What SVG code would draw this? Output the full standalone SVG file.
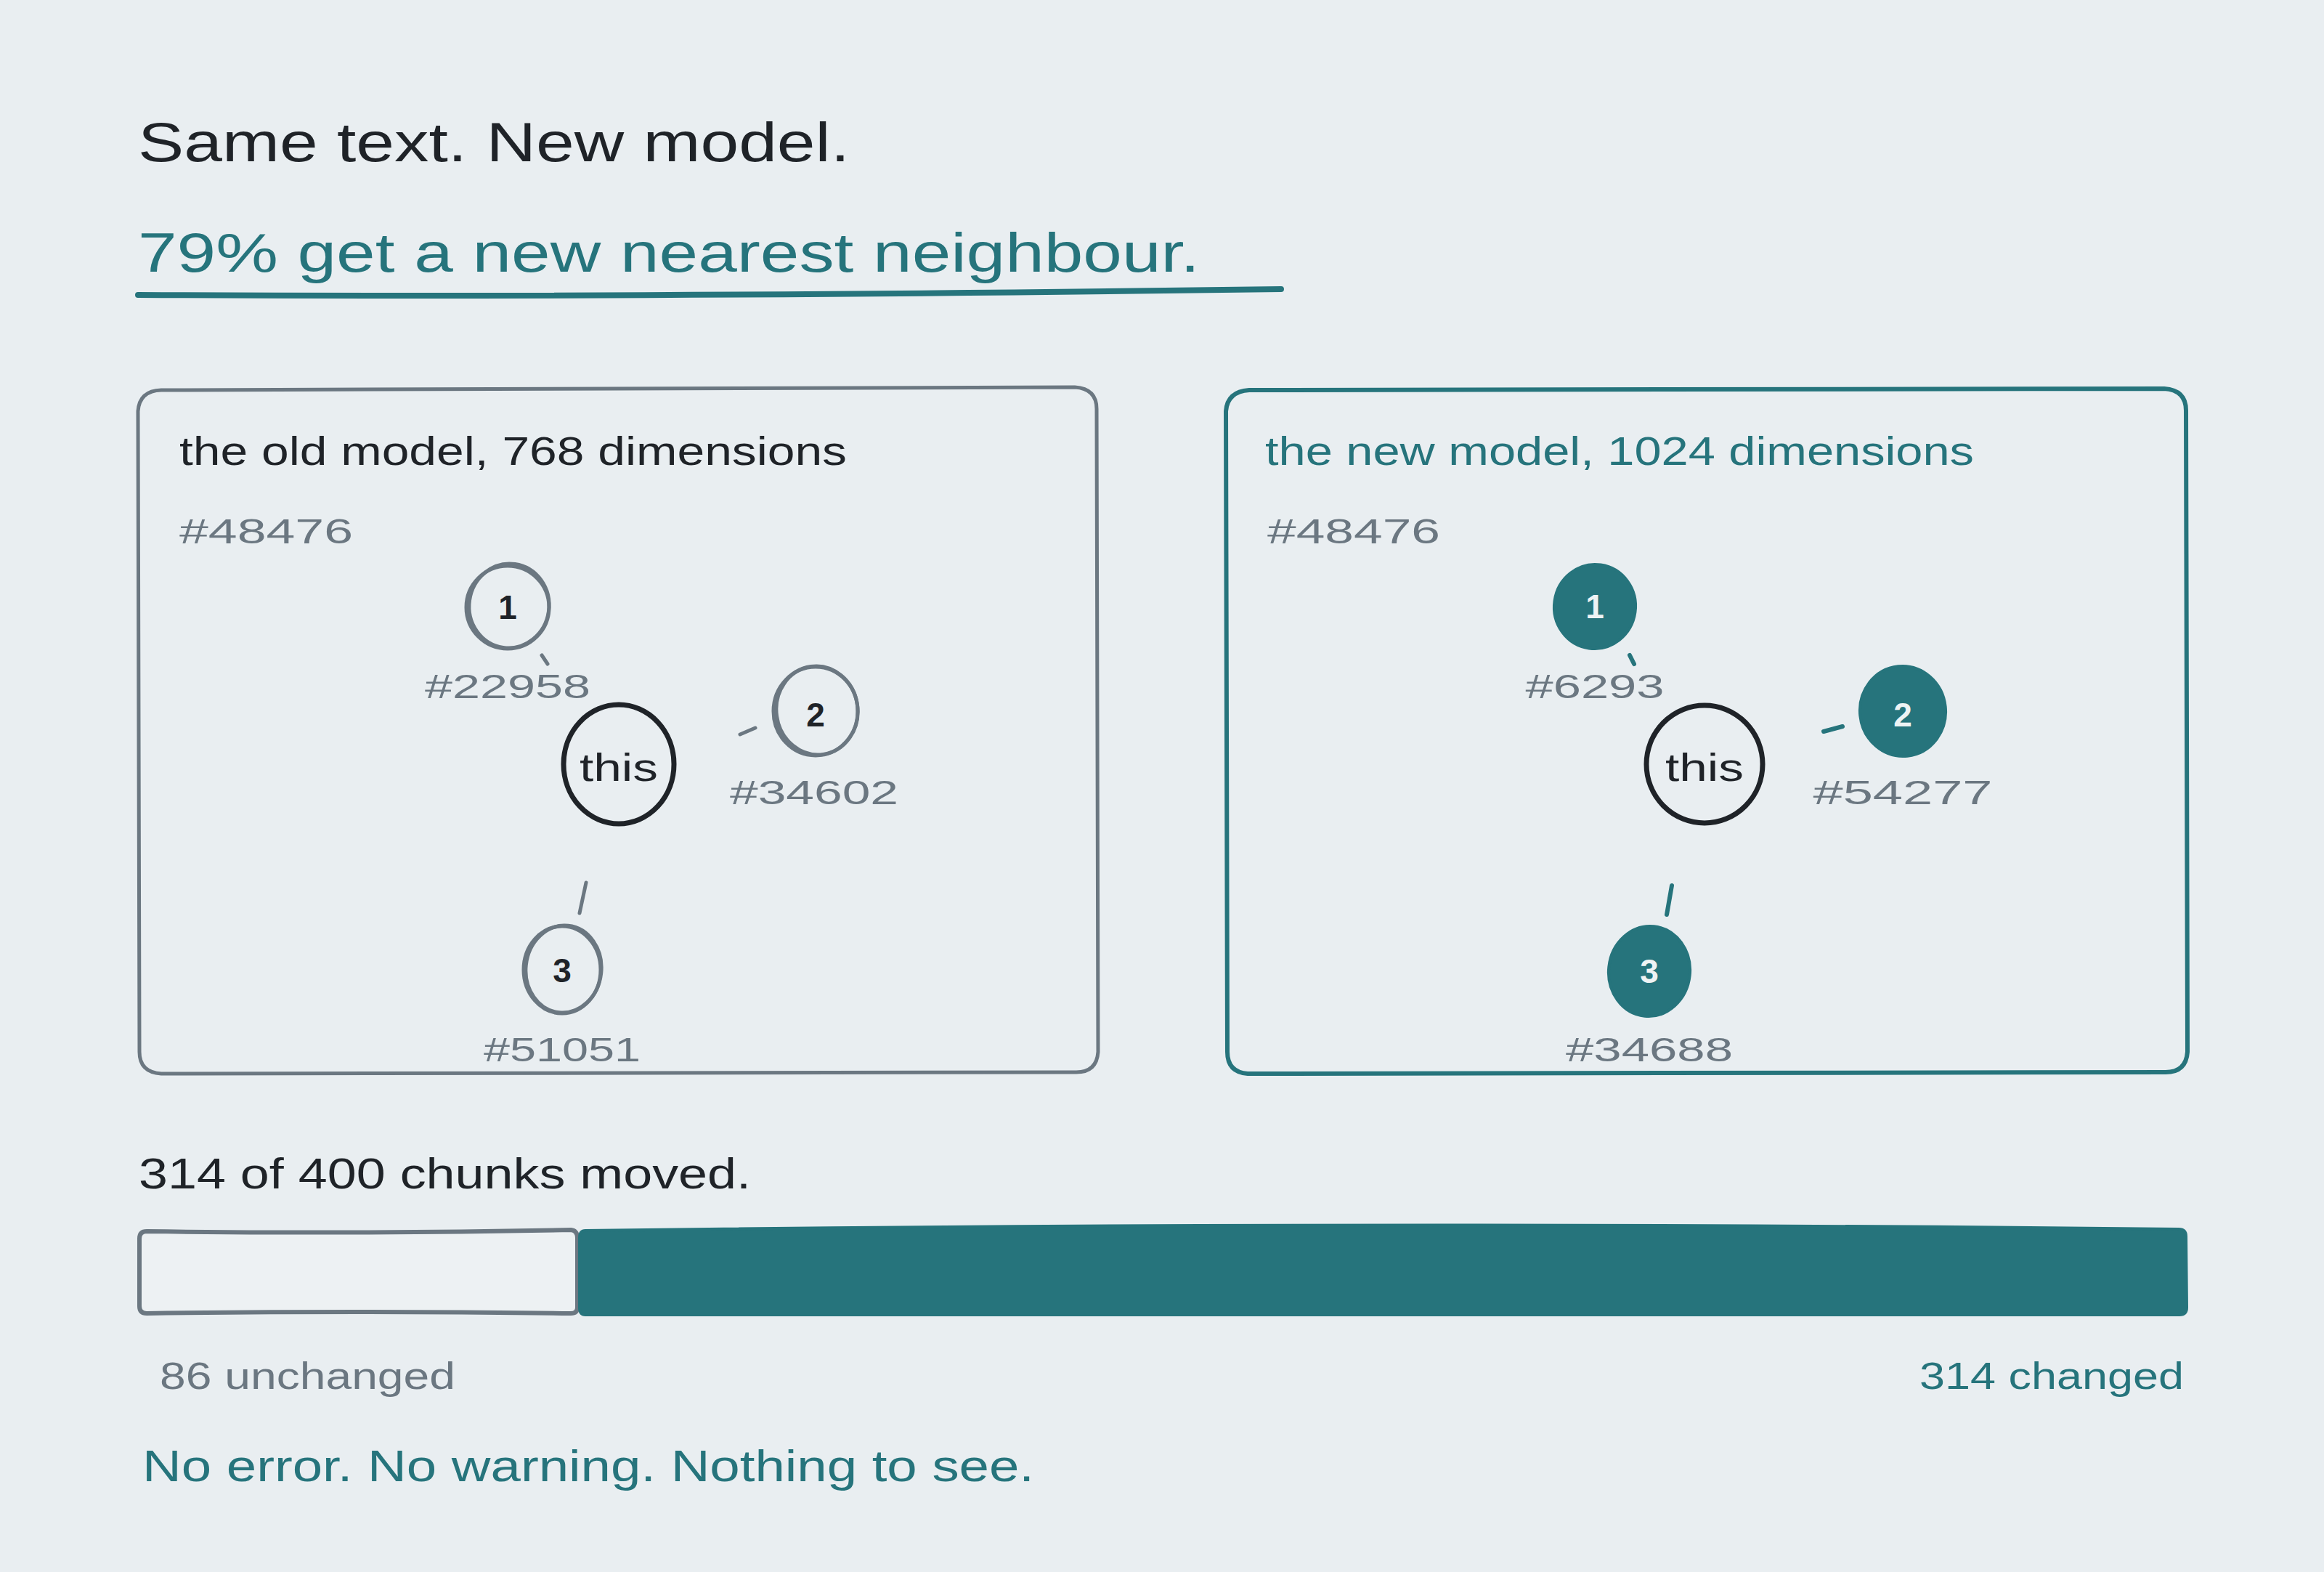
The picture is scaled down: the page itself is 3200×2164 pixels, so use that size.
<svg xmlns="http://www.w3.org/2000/svg" width="3200" height="2164" viewBox="0 0 3200 2164">
<defs>
<style>
text{font-family:"Liberation Sans","DejaVu Sans",sans-serif;}
.dark{fill:#1f2328;}
.teal{fill:#26747c;}
.gray{fill:#6b7781;}
.white{fill:#eef3f4;}
.ring{fill:none;stroke:#6b7781;stroke-width:5;}
.ringThis{fill:none;stroke:#1f2328;stroke-width:7;}
.blob{fill:#26747c;stroke:#26747c;stroke-width:4;}
.tickG{stroke:#6b7781;stroke-width:5;stroke-linecap:round;fill:none;}
.tickT{stroke:#26747c;stroke-width:6;stroke-linecap:round;fill:none;}
.h1{font-size:76px;}
.ptitle{font-size:56px;}
.id{font-size:48px;}
.num{font-size:46px;font-weight:bold;}
.lbl{font-size:46px;}
</style>
</defs>
<rect x="0" y="0" width="3200" height="2164" fill="#e9eef1"/>

<g id="heading">
<text class="dark h1" x="190" y="222" textLength="980" lengthAdjust="spacingAndGlyphs">Same text. New model.</text>
<text class="teal h1" x="190" y="374" textLength="1462" lengthAdjust="spacingAndGlyphs">79% get a new nearest neighbour.</text>
<path d="M 190 406 Q 900 410 1764 398" fill="none" stroke="#26747c" stroke-width="8" stroke-linecap="round"/>
</g>

<g id="panel-old">
<path d="M 222 537 L 1480 533 Q 1510 535 1510 563 L 1512 1448 Q 1510 1476 1482 1476 L 222 1478 Q 192 1476 192 1448 L 190 566 Q 192 538 222 537 Z" fill="none" stroke="#6b7781" stroke-width="5" stroke-linejoin="round"/>
<text class="dark ptitle" x="247" y="640" textLength="919" lengthAdjust="spacingAndGlyphs">the old model, 768 dimensions</text>
<text class="gray id" x="247" y="748" textLength="239" lengthAdjust="spacingAndGlyphs">#48476</text>
</g>

<g id="panel-new">
<path d="M 1720 537 L 2980 535 Q 3010 537 3010 565 L 3012 1448 Q 3010 1476 2982 1476 L 1718 1478 Q 1690 1476 1690 1448 L 1688 566 Q 1690 539 1720 537 Z" fill="none" stroke="#26747c" stroke-width="6" stroke-linejoin="round"/>
<text class="teal ptitle" x="1742" y="640" textLength="976" lengthAdjust="spacingAndGlyphs">the new model, 1024 dimensions</text>
<text class="gray id" x="1745" y="748" textLength="238" lengthAdjust="spacingAndGlyphs">#48476</text>
</g>

<g id="connectors">
<line class="tickG" x1="746" y1="902" x2="754" y2="914"/>
<line class="tickG" x1="1019" y1="1011" x2="1040" y2="1002"/>
<line class="tickG" x1="807" y1="1215" x2="798" y2="1257"/>
<line class="tickT" x1="2244" y1="902" x2="2250" y2="914"/>
<line class="tickT" x1="2511" y1="1007" x2="2537" y2="1000"/>
<line class="tickT" x1="2302" y1="1219" x2="2295" y2="1259"/>
</g>

<g id="old-this">
<ellipse class="ringThis" cx="852" cy="1052" rx="76" ry="82"/>
<text class="dark" x="852" y="1075" font-size="54" text-anchor="middle" textLength="108" lengthAdjust="spacingAndGlyphs">this</text>
</g>
<g id="old-n1">
<ellipse class="ring" cx="699" cy="836" rx="57" ry="57"/>
<ellipse class="ring" cx="701" cy="834" rx="55" ry="58" transform="rotate(8 701 834)" stroke-width="3"/>
<text class="dark num" x="699" y="852" text-anchor="middle">1</text>
<text class="gray lbl" x="699" y="961" text-anchor="middle" textLength="228" lengthAdjust="spacingAndGlyphs">#22958</text>
</g>
<g id="old-n2">
<ellipse class="ring" cx="1123" cy="979" rx="58" ry="61"/>
<ellipse class="ring" cx="1125" cy="978" rx="56" ry="61" transform="rotate(-8 1125 978)" stroke-width="3"/>
<text class="dark num" x="1123" y="1000" text-anchor="middle">2</text>
<text class="gray lbl" x="1121" y="1107" text-anchor="middle" textLength="232" lengthAdjust="spacingAndGlyphs">#34602</text>
</g>
<g id="old-n3">
<ellipse class="ring" cx="774" cy="1335" rx="53" ry="60"/>
<ellipse class="ring" cx="776" cy="1334" rx="52" ry="60" transform="rotate(6 776 1334)" stroke-width="3"/>
<text class="dark num" x="774" y="1352" text-anchor="middle">3</text>
<text class="gray lbl" x="774" y="1461" text-anchor="middle" textLength="216" lengthAdjust="spacingAndGlyphs">#51051</text>
</g>

<g id="new-this">
<ellipse class="ringThis" cx="2347" cy="1052" rx="80" ry="81"/>
<text class="dark" x="2347" y="1075" font-size="54" text-anchor="middle" textLength="108" lengthAdjust="spacingAndGlyphs">this</text>
</g>
<g id="new-n1">
<ellipse class="blob" cx="2196" cy="835" rx="56" ry="58" transform="rotate(8 2196 835)"/>
<text class="white num" x="2196" y="851" text-anchor="middle">1</text>
<text class="gray lbl" x="2196" y="961" text-anchor="middle" textLength="191" lengthAdjust="spacingAndGlyphs">#6293</text>
</g>
<g id="new-n2">
<ellipse class="blob" cx="2620" cy="979" rx="59" ry="62" transform="rotate(-6 2620 979)"/>
<text class="white num" x="2620" y="1000" text-anchor="middle">2</text>
<text class="gray lbl" x="2620" y="1107" text-anchor="middle" textLength="247" lengthAdjust="spacingAndGlyphs">#54277</text>
</g>
<g id="new-n3">
<ellipse class="blob" cx="2271" cy="1337" rx="56" ry="62" transform="rotate(6 2271 1337)"/>
<text class="white num" x="2271" y="1353" text-anchor="middle">3</text>
<text class="gray lbl" x="2271" y="1461" text-anchor="middle" textLength="230" lengthAdjust="spacingAndGlyphs">#34688</text>
</g>

<g id="summary">
<text class="dark" x="191" y="1636" font-size="60" textLength="843" lengthAdjust="spacingAndGlyphs">314 of 400 chunks moved.</text>
<path d="M 202 1695 Q 490 1699 786 1693 Q 795 1694 795 1704 L 795 1800 Q 795 1808 786 1808 Q 490 1804 202 1808 Q 192 1808 192 1798 L 192 1705 Q 192 1695 202 1695 Z" fill="#edf1f3" stroke="#6b7781" stroke-width="6" stroke-linejoin="round"/>
<path d="M 806 1694 Q 1900 1680 3000 1692 Q 3010 1692 3010 1702 L 3011 1800 Q 3011 1810 3001 1810 L 806 1810 Q 798 1810 798 1800 L 798 1704 Q 798 1694 806 1694 Z" fill="#26747c" stroke="#26747c" stroke-width="4" stroke-linejoin="round"/>
<text class="gray" x="220" y="1912" font-size="52" textLength="407" lengthAdjust="spacingAndGlyphs">86 unchanged</text>
<text class="teal" x="3007" y="1912" font-size="52" text-anchor="end" textLength="364" lengthAdjust="spacingAndGlyphs">314 changed</text>
<text class="teal" x="196" y="2039" font-size="62" textLength="1228" lengthAdjust="spacingAndGlyphs">No error. No warning. Nothing to see.</text>
</g>
</svg>
